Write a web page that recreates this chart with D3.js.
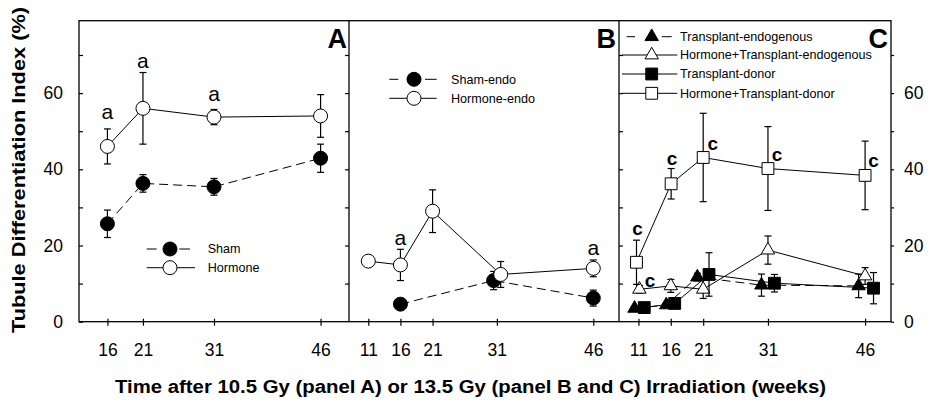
<!DOCTYPE html>
<html>
<head>
<meta charset="utf-8">
<script src="https://cdn.jsdelivr.net/npm/d3@7"></script>
<style>
  body { margin: 0; background: #fff; }
  text { font-family: "Liberation Sans", Arial, sans-serif; }
</style>
</head>
<body>
<div id="chart"></div>
<script>
// ---- data ----
var ticksA = [16, 21, 31, 46];
var ticksBC = [11, 16, 21, 31, 46];
var yMajor = [0, 20, 40, 60];
var yAll = [0, 10, 20, 30, 40, 50, 60, 70];

// panel A
var weeksA = [16, 21, 31, 46];
var shamA = [25.7, 36.3, 35.4, 42.9];
var shamAErr = [3.6, 2.3, 2.2, 3.7];
var hormoneA = [46.0, 56.0, 53.7, 54.0];
var hormoneAErr = [4.6, 9.4, 2.0, 5.6];

// panel B
var shamEndoWeeks = [16, 30.5, 46];
var shamEndo = [4.6, 10.8, 6.2];
var shamEndoErr = [0.8, 2.4, 2.1];
var hormoneEndoWeeks = [11, 16, 21, 31.6, 46];
var hormoneEndo = [15.9, 14.9, 29.0, 12.4, 14.0];
var hormoneEndoErr = [0.8, 4.1, 5.6, 3.4, 2.2];

// panel C
var tEndoWeeks = [10.4, 15.3, 20.1, 30, 45];
var tEndo = [3.5, 4.4, 11.7, 9.6, 9.4];
var tEndoErr = [0.5, 0.5, 1.0, 2.9, 3.1];
var htEndoWeeks = [11.15, 16, 21, 31, 46];
var htEndo = [8.5, 9.4, 8.5, 18.8, 12.0];
var htEndoErr = [1.0, 1.7, 2.4, 3.7, 2.2];
var tDonorWeeks = [11.9, 16.6, 21.9, 32, 47.3];
var tDonor = [3.7, 4.8, 12.4, 10.1, 8.8];
var tDonorErr = [0.5, 0.5, 5.7, 2.3, 4.1];
var htDonorWeeks = [10.7, 16.05, 21, 31, 46];
var htDonor = [15.6, 36.2, 43.1, 40.2, 38.4];
var htDonorErr = [5.8, 4.0, 11.6, 11.0, 9.0];

// significance letters: [week, value at baseline, letter]
var lettersA = [[16, 53.1, "a"], [21, 66.5, "a"], [31, 58.0, "a"]];
var lettersB = [[16, 20.1, "a"], [46, 17.5, "a"]];
var lettersC = [[10.85, 22.8, "c"], [12.8, 9.0, "c"], [16.2, 41.1, "c"], [22.5, 45.1, "c"], [32.4, 42.3, "c"], [47.3, 40.7, "c"]];

// ---- layout ----
var width = 931, height = 404;
var plotTop = 20.7, plotBottom = 321.7;
var xA = d3.scaleLinear().domain([12, 50]).range([79, 349]);
var xB = d3.scaleLinear().domain([8, 50]).range([349, 619]);
var xC = d3.scaleLinear().domain([8, 50]).range([619, 891]);
var y = d3.scaleLinear().domain([0, 79]).range([plotBottom, plotTop]);

var svg = d3.select("#chart").append("svg")
    .attr("width", width)
    .attr("height", height);

// axes first
function styleAxis(g) {
  g.select(".domain").remove();
  g.attr("font-family", null).attr("font-size", null);
  g.selectAll(".tick line").attr("stroke", "#000").attr("stroke-width", 1.2);
  g.selectAll("text").attr("fill", "#000").style("font-size", "17.5px");
}

svg.append("g")
    .attr("transform", "translate(79,0)")
    .call(d3.axisLeft(y).tickValues(yAll).tickSize(-4).tickSizeOuter(0).tickPadding(16)
      .tickFormat(function(d){ return yMajor.indexOf(d) >= 0 ? d : ""; }))
    .call(styleAxis);

svg.append("g")
    .attr("transform", "translate(349,0)")
    .call(d3.axisLeft(y).tickValues(yAll.slice(1)).tickSize(4).tickSizeOuter(0).tickFormat(""))
    .call(styleAxis);

svg.append("g")
    .attr("transform", "translate(619,0)")
    .call(d3.axisRight(y).tickValues(yAll.slice(1)).tickSize(4).tickSizeOuter(0).tickFormat(""))
    .call(styleAxis);

svg.append("g")
    .attr("transform", "translate(891,0)")
    .call(d3.axisRight(y).tickValues(yAll).tickSize(3).tickSizeOuter(0).tickPadding(10)
      .tickFormat(function(d){ return yMajor.indexOf(d) >= 0 ? d : ""; }))
    .call(styleAxis);

[[xA, ticksA], [xB, ticksBC], [xC, ticksBC]].forEach(function(p){
  var g = svg.append("g")
      .attr("transform", "translate(0," + plotBottom + ")")
      .call(d3.axisBottom(p[0]).tickValues(p[1]).tickSize(4).tickSizeOuter(0))
      .call(styleAxis);
  g.selectAll(".tick line").attr("y1", -3);
  g.selectAll(".tick text").attr("y", 34.3).attr("dy", 0);
});

// frame
svg.append("rect")
    .attr("x", 79).attr("y", plotTop)
    .attr("width", 891 - 79).attr("height", plotBottom - plotTop)
    .attr("fill", "none").attr("stroke", "#000").attr("stroke-width", 1.3);
[349, 619].forEach(function(px){
  svg.append("line")
      .attr("x1", px).attr("x2", px).attr("y1", plotTop).attr("y2", plotBottom)
      .attr("stroke", "#000").attr("stroke-width", 1.3);
});

// markers
function marker(g, shape, fill, cx, cy) {
  if (shape === "circle") {
    g.append("circle").attr("cx", cx).attr("cy", cy).attr("r", 7)
      .attr("fill", fill).attr("stroke", "#000").attr("stroke-width", 1);
  } else {
    var type = shape === "square" ? d3.symbolSquare : d3.symbolTriangle;
    var size = shape === "square" ? 140 : 78;
    g.append("path")
      .attr("d", d3.symbol().type(type).size(size))
      .attr("transform", "translate(" + cx + "," + cy + ")")
      .attr("fill", fill).attr("stroke", "#000").attr("stroke-width", 1);
  }
}

function drawSeries(x, weeks, vals, errs, shape, fill, dashed) {
  var g = svg.append("g");
  var pts = weeks.map(function(w, i){ return [w, vals[i], errs[i]]; });
  // error bars
  pts.forEach(function(d){
    var cx = x(d[0]);
    g.append("line").attr("x1", cx).attr("x2", cx)
      .attr("y1", y(d[1] + d[2])).attr("y2", y(d[1] - d[2]))
      .attr("stroke", "#000").attr("stroke-width", 1.2);
    [d[1] + d[2], d[1] - d[2]].forEach(function(v){
      g.append("line").attr("x1", cx - 3.5).attr("x2", cx + 3.5)
        .attr("y1", y(v)).attr("y2", y(v))
        .attr("stroke", "#000").attr("stroke-width", 1.2);
    });
  });
  g.append("path")
    .datum(pts)
    .attr("d", d3.line().x(function(d){ return x(d[0]); }).y(function(d){ return y(d[1]); }))
    .attr("fill", "none").attr("stroke", "#000").attr("stroke-width", 1)
    .attr("stroke-dasharray", dashed ? "9,5" : null);
  pts.forEach(function(d){ marker(g, shape, fill, x(d[0]), y(d[1])); });
}

// panel A
drawSeries(xA, weeksA, shamA, shamAErr, "circle", "#000", true);
drawSeries(xA, weeksA, hormoneA, hormoneAErr, "circle", "#fff", false);
// panel B
drawSeries(xB, shamEndoWeeks, shamEndo, shamEndoErr, "circle", "#000", true);
drawSeries(xB, hormoneEndoWeeks, hormoneEndo, hormoneEndoErr, "circle", "#fff", false);
// panel C
drawSeries(xC, tEndoWeeks, tEndo, tEndoErr, "triangle", "#000", true);
drawSeries(xC, htEndoWeeks, htEndo, htEndoErr, "triangle", "#fff", false);
drawSeries(xC, tDonorWeeks, tDonor, tDonorErr, "square", "#000", false);
drawSeries(xC, htDonorWeeks, htDonor, htDonorErr, "square", "#fff", false);

// letters
function letters(x, list, bold) {
  list.forEach(function(d){
    svg.append("text")
      .attr("x", x(d[0])).attr("y", y(d[1]))
      .attr("text-anchor", "middle")
      .style("font-size", bold ? "19px" : "21px")
      .style("font-weight", bold ? "bold" : "normal")
      .text(d[2]);
  });
}
letters(xA, lettersA, false);
letters(xB, lettersB, false);
letters(xC, lettersC, true);

// legends: solid rows span x0..x1, dashed rows get one short dash each side of the marker
function legend(rows, x0, x1, mx, tx, dash) {
  rows.forEach(function(r){
    var g = svg.append("g");
    var segs = r.dashed ? [[dash[0], dash[1]], [dash[2], dash[3]]] : [[x0, x1]];
    segs.forEach(function(s){
      g.append("line").attr("x1", s[0]).attr("x2", s[1]).attr("y1", r.y).attr("y2", r.y)
        .attr("stroke", "#000").attr("stroke-width", 1);
    });
    marker(g, r.shape, r.fill, mx, r.y);
    g.append("text").attr("x", tx).attr("y", r.y).attr("dy", "0.35em")
      .style("font-size", "12.6px").text(r.label);
  });
}
legend([
  {y: 249, label: "Sham", shape: "circle", fill: "#000", dashed: true},
  {y: 267.7, label: "Hormone", shape: "circle", fill: "#fff", dashed: false}
], 146.7, 195, 170, 207.7, [146.7, 156.7, 179.3, 190]);
legend([
  {y: 79.3, label: "Sham-endo", shape: "circle", fill: "#000", dashed: true},
  {y: 98.3, label: "Hormone-endo", shape: "circle", fill: "#fff", dashed: false}
], 389.3, 436.7, 414, 451, [389.3, 398.3, 425, 436.7]);
legend([
  {y: 36.7, label: "Transplant-endogenous", shape: "triangle", fill: "#000", dashed: true},
  {y: 55, label: "Hormone+Transplant-endogenous", shape: "triangle", fill: "#fff", dashed: false},
  {y: 74, label: "Transplant-donor", shape: "square", fill: "#000", dashed: false},
  {y: 93.3, label: "Hormone+Transplant-donor", shape: "square", fill: "#fff", dashed: false}
], 622, 677.3, 651.7, 680, [626.7, 635, 661.7, 671.7]);

// panel letters
[["A", 347], ["B", 616], ["C", 888]].forEach(function(p){
  svg.append("text").attr("x", p[1]).attr("y", 48)
    .attr("text-anchor", "end")
    .style("font-size", "27px").style("font-weight", "bold")
    .text(p[0]);
});

// axis titles
svg.append("text")
    .attr("transform", "translate(25,170) rotate(-90)")
    .attr("text-anchor", "middle")
    .attr("textLength", 326).attr("lengthAdjust", "spacingAndGlyphs")
    .style("font-size", "18.5px").style("font-weight", "bold")
    .text("Tubule Differentiation Index (%)");

svg.append("text")
    .attr("x", 115).attr("y", 393)
    .attr("textLength", 711).attr("lengthAdjust", "spacingAndGlyphs")
    .style("font-size", "18px").style("font-weight", "bold")
    .text("Time after 10.5 Gy (panel A) or 13.5 Gy (panel B and C) Irradiation (weeks)");
</script>
</body>
</html>
